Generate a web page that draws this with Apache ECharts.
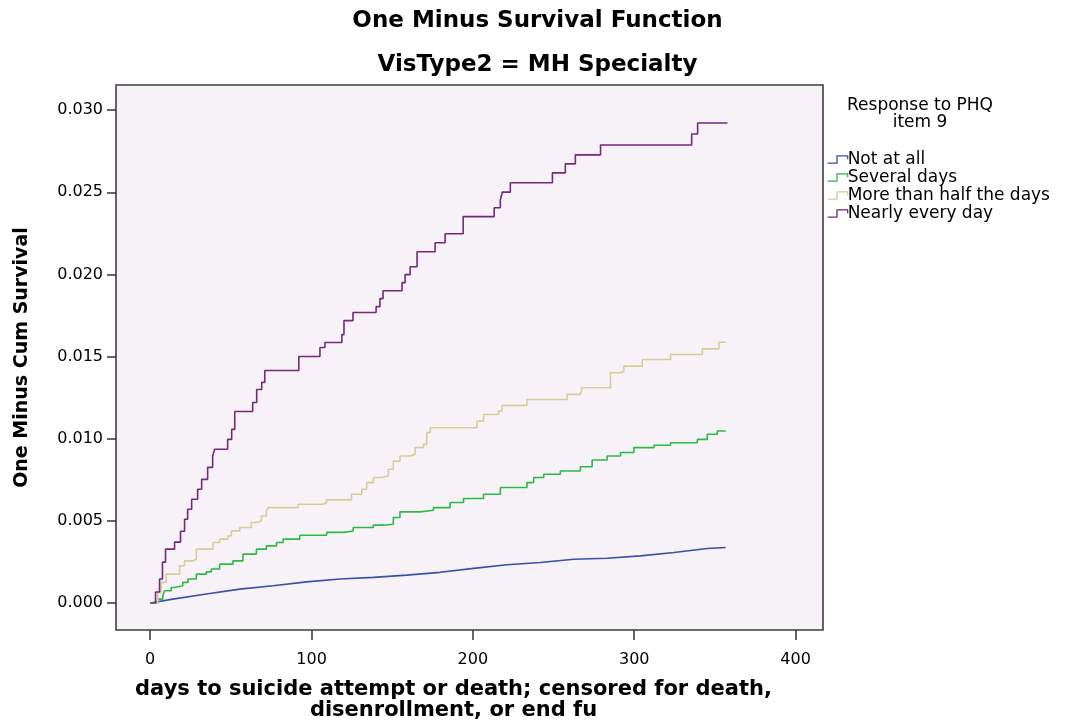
<!DOCTYPE html>
<html>
<head>
<meta charset="utf-8">
<script src="https://cdn.jsdelivr.net/npm/echarts@6/dist/echarts.min.js"></script>
<style>
  html, body { margin: 0; padding: 0; background: #ffffff; }
  #chart { width: 1075px; height: 726px; }
</style>
</head>
<body>
<div id="chart"></div>
<script>
// ---- Data (days, one minus cumulative survival) ----
const seriesNames = ['Not at all', 'Several days', 'More than half the days', 'Nearly every day'];

const notAtAll = [
  [0, 0], [14.0, 0.00024], [34.8, 0.00055], [55.5, 0.00085], [76.2, 0.00105],
  [96.9, 0.00129], [117.6, 0.00146], [138.3, 0.00156], [159.0, 0.00170],
  [179.7, 0.00187], [200.4, 0.00211], [221.1, 0.00233], [241.8, 0.00247],
  [262.5, 0.00267], [283.2, 0.00273], [303.9, 0.00287], [324.6, 0.00308],
  [345.3, 0.00332], [356.7, 0.00338]
];

const severalDays = [
  [0, 0], [4.7, 0.00024], [7.8, 0.00044], [8.9, 0.00075], [13.0, 0.00095],
  [15.1, 0.00105], [20.2, 0.00126], [23.4, 0.00146], [28.6, 0.00176],
  [34.8, 0.00190], [37.9, 0.00207], [43.0, 0.00237], [51.3, 0.00257],
  [57.5, 0.00298], [65.8, 0.00328], [72.0, 0.00348], [78.3, 0.00369],
  [82.4, 0.00389], [92.7, 0.00413], [109.3, 0.00430], [119.6, 0.00439],
  [125.8, 0.00460], [138.3, 0.00474], [144.5, 0.00480], [150.7, 0.00521],
  [154.8, 0.00555], [167.3, 0.00565], [175.5, 0.00581], [185.9, 0.00612],
  [194.2, 0.00636], [206.6, 0.00662], [217.0, 0.00703], [233.5, 0.00733],
  [237.7, 0.00764], [243.9, 0.00784], [254.2, 0.00804], [266.6, 0.00830],
  [273.9, 0.00871], [283.2, 0.00895], [291.5, 0.00916], [299.8, 0.00946],
  [312.2, 0.00960], [322.5, 0.00976], [339.1, 0.00996], [345.3, 0.01027],
  [351.5, 0.01047], [356.7, 0.01051]
];

const moreThanHalf = [
  [0, 0], [4.7, 0.00065], [6.8, 0.00125], [9.9, 0.00176], [18.2, 0.00227],
  [21.3, 0.00257], [26.5, 0.00267], [28.6, 0.00328], [38.9, 0.00369],
  [43.0, 0.00389], [48.2, 0.00409], [50.3, 0.00439], [55.5, 0.00460],
  [62.7, 0.00490], [65.8, 0.00500], [68.9, 0.00530], [72.0, 0.00561],
  [73.0, 0.00581], [91.7, 0.00601], [107.2, 0.00612], [109.3, 0.00628],
  [124.8, 0.00662], [131.1, 0.00693], [134.2, 0.00733], [138.3, 0.00764],
  [143.5, 0.00773], [147.6, 0.00814], [150.7, 0.00864], [154.8, 0.00895],
  [161.1, 0.00905], [164.2, 0.00946], [169.3, 0.00966], [171.4, 0.01037],
  [173.5, 0.01067], [202.5, 0.01107], [206.6, 0.01148], [215.9, 0.01168],
  [218.0, 0.01203], [233.5, 0.01239], [258.4, 0.01270], [266.6, 0.01280],
  [267.7, 0.01310], [285.3, 0.01402], [291.5, 0.01411], [293.5, 0.01442],
  [305.0, 0.01482], [322.5, 0.01513], [342.2, 0.01547], [352.5, 0.01587],
  [356.7, 0.01587]
];

const nearlyEveryDay = [
  [0, 0], [3.3, 0.00067], [5.8, 0.00146], [7.6, 0.00249], [9.5, 0.00328],
  [15.1, 0.00371], [18.8, 0.00437], [21.3, 0.00510], [23.2, 0.00571],
  [25.7, 0.00632], [29.4, 0.00693], [31.9, 0.00753], [35.6, 0.00826],
  [38.7, 0.00893], [39.9, 0.00936], [48.0, 0.00996], [50.5, 0.01057],
  [52.4, 0.01166], [63.5, 0.01221], [66.0, 0.01300], [69.1, 0.01343],
  [71.0, 0.01415], [92.1, 0.01501], [105.2, 0.01555], [108.3, 0.01586],
  [118.8, 0.01634], [120.1, 0.01719], [125.7, 0.01768], [140.0, 0.01804],
  [142.4, 0.01853], [144.3, 0.01901], [156.1, 0.01950], [158.0, 0.01999],
  [161.1, 0.02047], [165.4, 0.02138], [176.6, 0.02193], [182.8, 0.02248],
  [194.0, 0.02352], [213.2, 0.02406], [217.0, 0.02453], [218.2, 0.02501],
  [223.2, 0.02558], [249.3, 0.02618], [257.3, 0.02673], [263.5, 0.02728],
  [279.1, 0.02788], [335.6, 0.02855], [339.3, 0.02922], [357.8, 0.02922]
];

const xTicks = [0, 100, 200, 300, 400];
const yTicks = [0, 0.005, 0.010, 0.015, 0.020, 0.025, 0.030];

// ---- Styling ----
const FONT = 'DejaVu Sans';
const colors = ['#3A4FA6', '#2EB848', '#D3CE97', '#76287A'];
const seriesData = [notAtAll, severalDays, moreThanHalf, nearlyEveryDay];
const stepMode = [false, 'end', 'end', 'end'];
const legendIcon = 'path://M0,12 L14,12 L14,1 L30,1 L30,6';

const chart = echarts.init(document.getElementById('chart'), null, { renderer: 'canvas' });

const option = {
  animation: false,
  backgroundColor: '#ffffff',
  textStyle: { fontFamily: FONT, color: '#000' },
  title: [
    {
      text: 'One Minus Survival Function',
      left: 'center', top: 5,
      textStyle: { fontFamily: FONT, fontSize: 23, fontWeight: 'bold', color: '#000' }
    },
    {
      text: 'VisType2 = MH Specialty',
      left: 'center', top: 49,
      textStyle: { fontFamily: FONT, fontSize: 23, fontWeight: 'bold', color: '#000' }
    },
    {
      text: 'Response to PHQ\nitem 9',
      left: 915, top: 92, textAlign: 'center',
      textStyle: { fontFamily: FONT, fontSize: 17, fontWeight: 'normal', color: '#000', lineHeight: 17, align: 'center' }
    }
  ],
  legend: {
    orient: 'vertical',
    left: 822, top: 146,
    itemWidth: 20, itemHeight: 11, itemGap: 1,
    textStyle: { fontFamily: FONT, fontSize: 17, color: '#000', padding: [0, 0, 0, -5] },
    data: seriesNames.map((n, i) => ({
      name: n,
      icon: legendIcon,
      itemStyle: { color: 'transparent', borderColor: colors[i], borderWidth: 1.3 }
    }))
  },
  grid: {
    show: true,
    left: 116, right: 252, top: 85, bottom: 95,
    backgroundColor: '#F7F2F7',
    borderColor: '#3f3f3f', borderWidth: 1.6
  },
  xAxis: {
    type: 'value',
    min: -21.2, max: 417,
    name: 'days to suicide attempt or death; censored for death,\ndisenrollment, or end fu',
    nameLocation: 'middle',
    nameGap: 49,
    nameTextStyle: { fontFamily: FONT, fontSize: 21, fontWeight: 'bold', color: '#000', lineHeight: 21, padding: [0, 32, 0, 0] },
    axisLine: { show: false, onZero: false },
    axisTick: { show: true, length: 10, customValues: xTicks, lineStyle: { color: '#333', width: 1.5 } },
    axisLabel: { customValues: xTicks, margin: 22, fontFamily: FONT, fontSize: 16, color: '#000' },
    splitLine: { show: false }
  },
  yAxis: {
    type: 'value',
    min: -0.00164, max: 0.03153,
    name: 'One Minus Cum Survival',
    nameLocation: 'middle',
    nameGap: 84,
    nameTextStyle: { fontFamily: FONT, fontSize: 19, fontWeight: 'bold', color: '#000' },
    axisLine: { show: false, onZero: false },
    axisTick: { show: true, length: 9, customValues: yTicks, lineStyle: { color: '#333', width: 1.5 } },
    axisLabel: {
      customValues: yTicks, margin: 13, fontFamily: FONT, fontSize: 16, color: '#000',
      formatter: v => v.toFixed(3)
    },
    splitLine: { show: false }
  },
  series: seriesNames.map((n, i) => ({
    name: n,
    type: 'line',
    data: seriesData[i],
    step: stepMode[i],
    showSymbol: false,
    symbol: 'none',
    z: 2 + i,
    itemStyle: { color: colors[i], borderColor: colors[i] },
    lineStyle: { color: colors[i], width: 1.6 }
  }))
};

chart.setOption(option);
</script>
</body>
</html>
